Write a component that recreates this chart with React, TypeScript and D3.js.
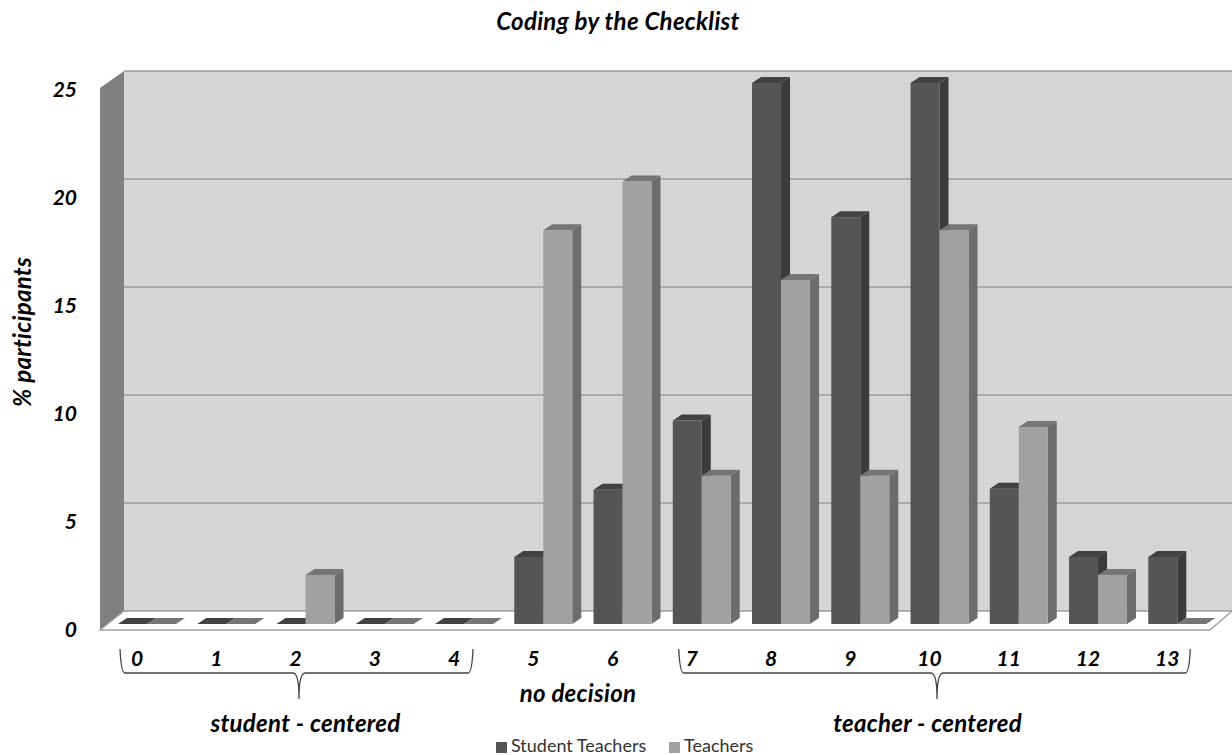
import { useEffect, useRef } from "react";
import * as d3 from "d3";

const categories = ["0", "1", "2", "3", "4", "5", "6", "7", "8", "9", "10", "11", "12", "13"];
const studentTeachers = [0, 0, 0, 0, 0, 3.1, 6.2, 9.4, 25, 18.8, 25, 6.25, 3.1, 3.1];
const teachers = [0, 0, 2.27, 0, 0, 18.2, 20.45, 6.85, 15.9, 6.85, 18.2, 9.1, 2.27, 0];
const yTicks = [0, 5, 10, 15, 20, 25];
const groups = [
  { label: "student - centered", from: "0", to: "4", padL: 17, padR: 19, labelDx: 9 },
  { label: "teacher - centered", from: "7", to: "13", padL: 13, padR: 23, labelDx: -7 },
];
const seriesNames = ["Student Teachers", "Teachers"];

const FONT = "Lato, 'Open Sans', sans-serif";
const width = 1232;
const height = 755;

export default function App() {
  const svgRef = useRef<SVGSVGElement>(null);

  useEffect(() => {
    if (!svgRef.current) return;
    const svg = d3.select(svgRef.current);
    svg.selectAll("*").remove();

    // 3D box: back wall, left wall and floor
    const wallLeft = 124;
    const wallFrontLeft = 100;
    const floorFront = 630;

    const x = d3.scaleBand<string>().domain(categories).range([107.4, 1216.9]).padding(0);
    const barW = 29;
    const barInset = (x.bandwidth() - barW * 2) / 2;
    const yBack = d3.scaleLinear().domain([0, 25]).range([611, 71]);
    const yBar = d3.scaleLinear().domain([0, 25]).range([624, 83]);
    const yLabel = d3.scaleLinear().domain([0, 25]).range([630, 90]);

    const defs = svg.append("defs");
    const pat = defs
      .append("pattern")
      .attr("id", "wall-tex")
      .attr("width", 4)
      .attr("height", 4)
      .attr("patternUnits", "userSpaceOnUse");
    pat.append("rect").attr("width", 4).attr("height", 4).attr("fill", "#d5d5d5");
    pat.append("rect").attr("x", 1).attr("y", 1).attr("width", 1).attr("height", 1).attr("fill", "#e2e2e2");
    pat.append("rect").attr("x", 3).attr("y", 3).attr("width", 1).attr("height", 1).attr("fill", "#cdcfd2");

    const poly = (pts: [number, number][]) => d3.line()(pts)! + "Z";

    svg.append("rect").attr("width", width).attr("height", height).attr("fill", "#fff");

    svg
      .append("rect")
      .attr("x", wallLeft)
      .attr("y", yBack(25))
      .attr("width", width - wallLeft)
      .attr("height", yBack(0) - yBack(25))
      .attr("fill", "url(#wall-tex)");

    // Grid lines
    svg
      .append("g")
      .selectAll("line")
      .data(yTicks)
      .join("line")
      .attr("x1", wallLeft)
      .attr("x2", width)
      .attr("y1", (d) => yBack(d))
      .attr("y2", (d) => yBack(d))
      .attr("stroke", "#9a9a98")
      .attr("stroke-width", 1.6);

    // Left wall
    svg
      .append("path")
      .attr(
        "d",
        poly([
          [wallFrontLeft, 88],
          [wallLeft, yBack(25)],
          [wallLeft, yBack(0)],
          [wallFrontLeft, floorFront],
        ]),
      )
      .attr("fill", "#7f7f7f");

    // Floor
    svg
      .append("path")
      .attr(
        "d",
        poly([
          [wallFrontLeft, floorFront],
          [wallLeft, yBack(0)],
          [width, yBack(0)],
          [1210, floorFront],
        ]),
      )
      .attr("fill", "#fff")
      .attr("stroke", "#a2a2a2")
      .attr("stroke-width", 1.4);

    // Bars
    const bdx = 9;
    const bdy = 6;
    const drawBar = (
      g: d3.Selection<SVGGElement, unknown, null, undefined>,
      left: number,
      value: number,
      colors: { front: string; side: string; top: string },
    ) => {
      const top = yBar(value);
      const base = yBar(0);
      g.append("path")
        .attr(
          "d",
          poly([
            [left + barW, top],
            [left + barW + bdx, top - bdy],
            [left + barW + bdx, base - bdy],
            [left + barW, base],
          ]),
        )
        .attr("fill", colors.side);
      g.append("path")
        .attr(
          "d",
          poly([
            [left, top],
            [left + bdx, top - bdy],
            [left + barW + bdx, top - bdy],
            [left + barW, top],
          ]),
        )
        .attr("fill", colors.top);
      if (value > 0) {
        g.append("rect")
          .attr("x", left)
          .attr("y", top)
          .attr("width", barW)
          .attr("height", base - top)
          .attr("fill", colors.front);
      }
    };

    const dark = { front: "#555555", side: "#3b3b3b", top: "#424242" };
    const light = { front: "#a1a1a1", side: "#6c6c6c", top: "#757575" };
    const bars = svg.append("g");
    categories.forEach((c, i) => {
      const left = x(c)! + barInset;
      drawBar(bars, left, studentTeachers[i], dark);
      drawBar(bars, left + barW, teachers[i], light);
    });

    // Y axis labels
    svg
      .append("g")
      .selectAll("text")
      .data(yTicks)
      .join("text")
      .attr("x", 77)
      .attr("y", (d) => yLabel(d))
      .attr("dy", "0.35em")
      .attr("text-anchor", "end")
      .attr("font-family", FONT)
      .attr("font-size", 21)
      .attr("font-weight", 700)
      .attr("font-style", "italic")
      .attr("fill", "#000")
      .text((d) => d);

    // X axis labels
    const labelShift = -10;
    const xAxis = svg
      .append("g")
      .attr("transform", `translate(${labelShift},666)`)
      .call(d3.axisBottom(x).tickSize(0).tickPadding(0));
    xAxis.select(".domain").remove();
    xAxis
      .selectAll(".tick text")
      .attr("dy", 0)
      .attr("y", 0)
      .attr("font-family", FONT)
      .attr("font-size", 21)
      .attr("font-weight", 700)
      .attr("font-style", "italic")
      .attr("fill", "#000");

    // Braces under the category groups
    const braceTop = 649;
    const braceMid = 673;
    const braceTip = 699;
    groups.forEach((g) => {
      const x0 = x(g.from)! + x.bandwidth() / 2 + labelShift - g.padL;
      const x1 = x(g.to)! + x.bandwidth() / 2 + labelShift + g.padR;
      const cx = (x0 + x1) / 2 + 2.5;
      const d = d3.path();
      d.moveTo(x0, braceTop);
      d.quadraticCurveTo(x0 + 1, braceMid, x0 + 5, braceMid);
      d.lineTo(cx - 6, braceMid);
      d.quadraticCurveTo(cx, braceMid, cx, braceTip);
      d.quadraticCurveTo(cx, braceMid, cx + 6, braceMid);
      d.lineTo(x1 - 5, braceMid);
      d.quadraticCurveTo(x1 - 1, braceMid, x1, braceTop);
      svg
        .append("path")
        .attr("d", d.toString())
        .attr("fill", "none")
        .attr("stroke", "#444")
        .attr("stroke-width", 1.3);
      svg
        .append("text")
        .attr("x", cx + g.labelDx - 2.5)
        .attr("y", 732)
        .attr("text-anchor", "middle")
        .attr("font-family", FONT)
        .attr("font-size", 24)
        .attr("letter-spacing", 0.3)
        .attr("font-weight", 700)
        .attr("font-style", "italic")
        .attr("fill", "#000")
        .text(g.label);
    });

    const addText = (tx: number, ty: number, s: string, size: number) =>
      svg
        .append("text")
        .attr("x", tx)
        .attr("y", ty)
        .attr("text-anchor", "middle")
        .attr("font-family", FONT)
        .attr("font-size", size)
        .attr("letter-spacing", 0.3)
        .attr("font-weight", 700)
        .attr("font-style", "italic")
        .attr("fill", "#000")
        .text(s);

    addText(578, 702, "no decision", 24);
    addText(618, 30, "Coding by the Checklist", 24);
    addText(0, 0, "% participants", 24).attr("transform", "translate(31,332) rotate(-90)");

    // Legend
    const legendX = [496, 669];
    seriesNames.forEach((name, i) => {
      svg
        .append("rect")
        .attr("x", legendX[i])
        .attr("y", 742)
        .attr("width", 11)
        .attr("height", 11)
        .attr("fill", i === 0 ? dark.front : light.front);
      svg
        .append("text")
        .attr("x", legendX[i] + 15)
        .attr("y", 752)
        .attr("font-family", FONT)
        .attr("font-size", 18)
        .attr("fill", "#333")
        .text(name);
    });
  }, []);

  return (
    <svg
      ref={svgRef}
      width={width}
      height={height}
      style={{ position: "absolute", left: 0, top: 0 }}
      role="img"
      aria-label="Coding by the Checklist bar chart"
    />
  );
}
